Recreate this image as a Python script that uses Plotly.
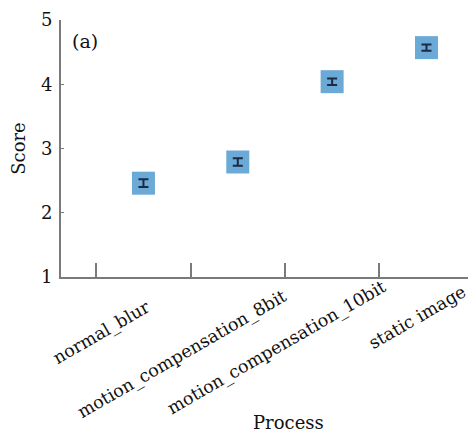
import plotly.graph_objects as go

categories = ["normal_blur", "motion_compensation_8bit", "motion_compensation_10bit", "static image"]
scores = [2.46, 2.79, 4.04, 4.57]
errors = [0.06, 0.06, 0.05, 0.05]
y_ticks = [1, 2, 3, 4, 5]

FONT = "DejaVu Serif"
AXIS_COLOR = "#7a7a7a"
TEXT_COLOR = "#111111"

# placement of the rotated category labels (upper-right corner of each label)
label_x = [0.14, 1.58, 2.64, 3.49]
label_y = [-0.062, -0.024, 0.014, -0.006]

fig = go.Figure()
fig.add_trace(go.Scatter(
    x=categories, y=scores, mode="markers",
    marker=dict(symbol="square", size=23, color="#6ba9d7", line=dict(width=0)),
    showlegend=False, hoverinfo="skip",
))
# error bars drawn on top of the squares
fig.add_trace(go.Scatter(
    x=categories, y=scores, mode="markers",
    marker=dict(size=1, color="rgba(0,0,0,0)"),
    error_y=dict(type="data", array=errors, visible=True, color="#1c2a44", thickness=2, width=5),
    showlegend=False,
))

annotations = [dict(text="(a)", x=0.022, y=0.918, xref="paper", yref="paper",
                    xanchor="left", yanchor="middle", showarrow=False,
                    font=dict(size=19, family=FONT, color=TEXT_COLOR)),
               dict(text="Process", x=0.549, y=-0.568, xref="paper", yref="paper",
                    xanchor="center", yanchor="middle", showarrow=False,
                    font=dict(size=18, family=FONT, color=TEXT_COLOR))]
for cat, lx, ly in zip(categories, label_x, label_y):
    annotations.append(dict(text=cat, x=lx, y=ly, xref="x", yref="paper",
                            xanchor="right", yanchor="top", textangle=-30,
                            showarrow=False,
                            font=dict(size=17.5, family=FONT, color=TEXT_COLOR)))

# the page body adds an 8px offset, so the figure is sized to fill the rest
fig.update_layout(
    width=468, height=425,
    margin=dict(l=53, r=0, t=12, b=156),
    plot_bgcolor="white", paper_bgcolor="white",
    font=dict(family=FONT, color=TEXT_COLOR),
    xaxis=dict(
        type="category", range=[-0.874, 3.525], automargin=False,
        showline=True, linecolor=AXIS_COLOR, linewidth=2,
        tickson="boundaries", ticks="inside", ticklen=14, tickwidth=1.5, tickcolor=AXIS_COLOR,
        showticklabels=False,
        showgrid=False, zeroline=False,
    ),
    yaxis=dict(
        range=[1, 5], tickvals=y_ticks, automargin=False,
        showline=True, linecolor=AXIS_COLOR, linewidth=2,
        ticks="inside", ticklen=3, tickcolor=AXIS_COLOR,
        ticklabelstandoff=3,
        tickfont=dict(size=18, family=FONT, color=TEXT_COLOR),
        showgrid=False, zeroline=False,
        title=dict(text="Score", font=dict(size=18, family=FONT, color=TEXT_COLOR), standoff=15),
    ),
    annotations=annotations,
)

fig.write_html("out.html")
